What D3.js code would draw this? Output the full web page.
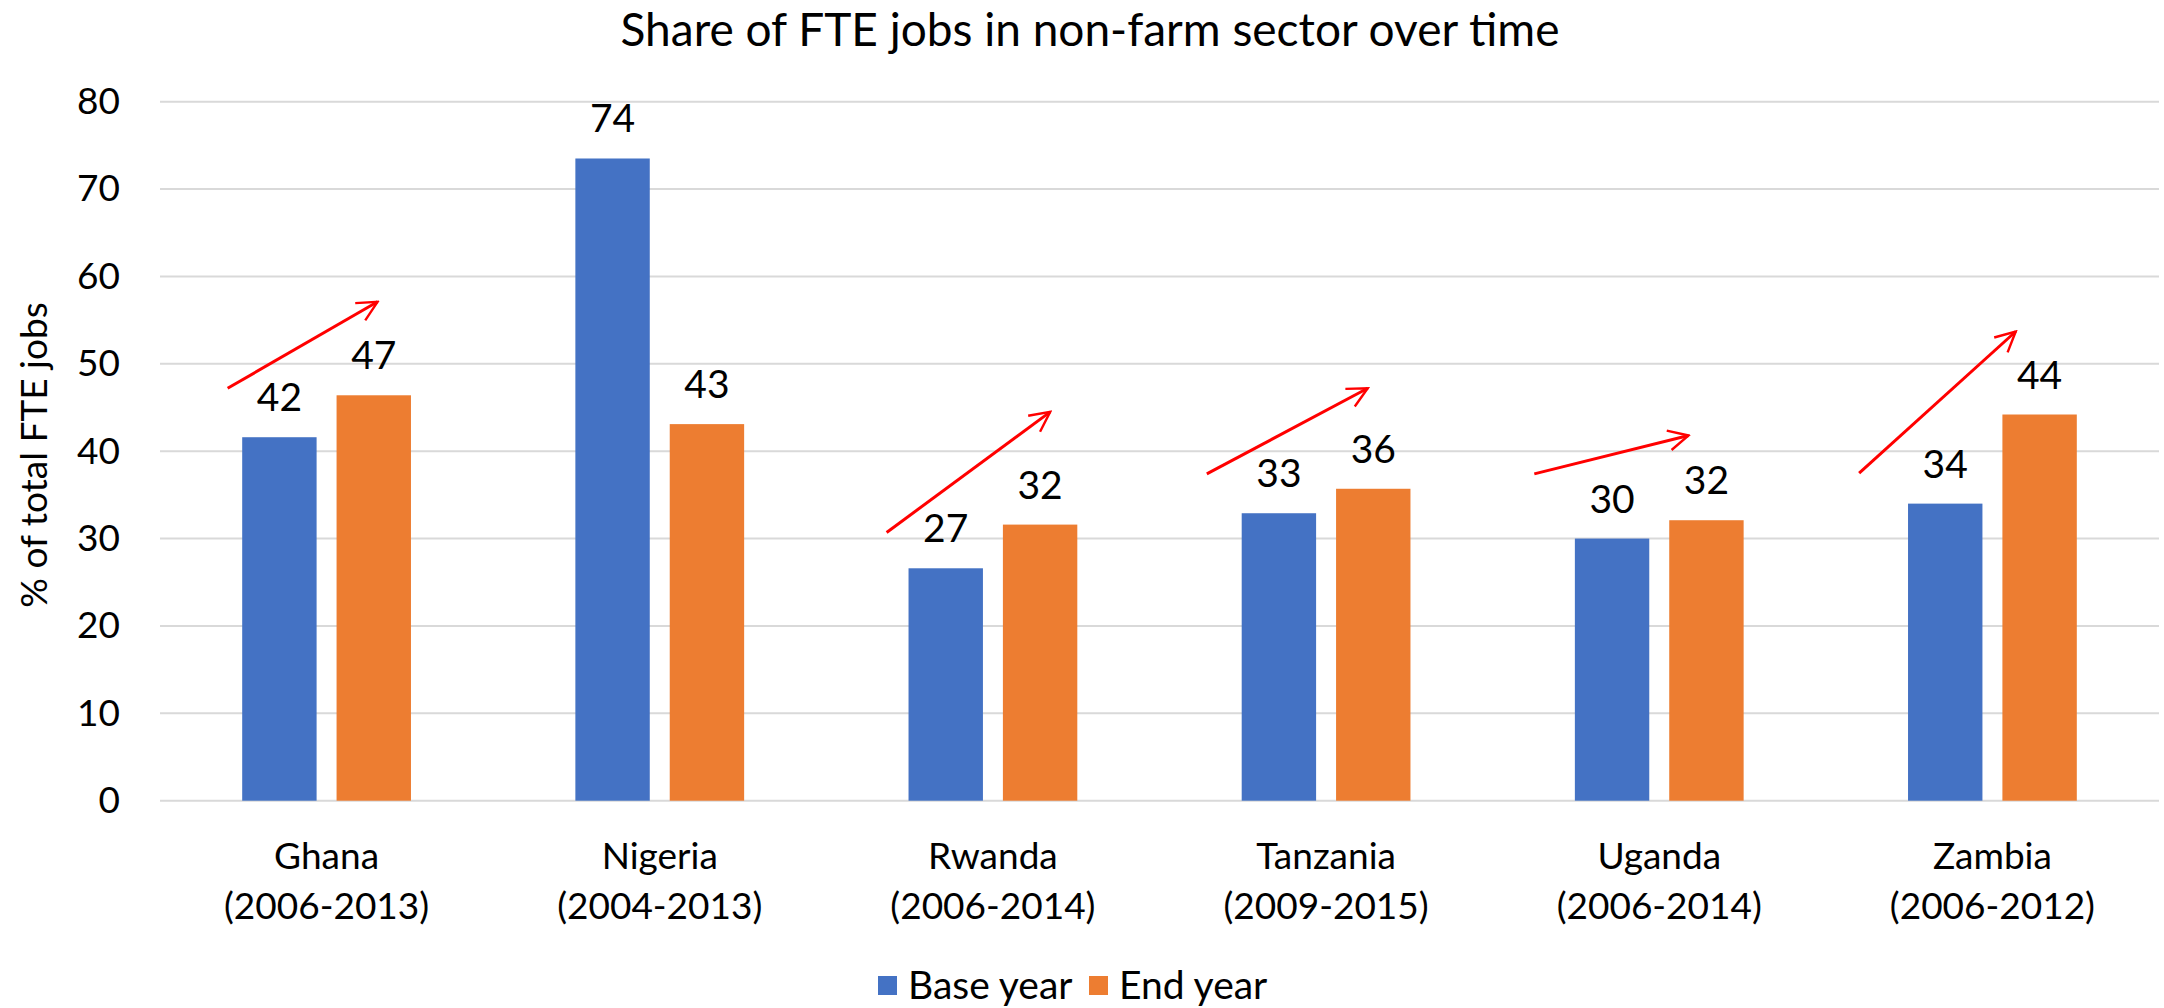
<!DOCTYPE html>
<html>
<head>
<meta charset="utf-8">
<script src="https://cdn.jsdelivr.net/npm/d3@7"></script>
<style>
  body { margin: 0; background: #fff; }
  text { font-family: Lato, "Open Sans", sans-serif; fill: #000; }
</style>
</head>
<body>
<div id="chart"></div>
<script>
let categories = ['Ghana', 'Nigeria', 'Rwanda', 'Tanzania', 'Uganda', 'Zambia'];
let periods = ['(2006-2013)', '(2004-2013)', '(2006-2014)', '(2009-2015)', '(2006-2014)', '(2006-2012)'];
let series = ['Base year', 'End year'];
let baseYear = [41.6, 73.5, 26.6, 32.9, 30.0, 34.0];
let endYear = [46.4, 43.1, 31.6, 35.7, 32.1, 44.2];
let labels = [[42, 47], [74, 43], [27, 32], [33, 36], [30, 32], [34, 44]];
let yTicks = [0, 10, 20, 30, 40, 50, 60, 70, 80];
// red trend arrows: [category, share of band, value]
let arrowFrom = [['Ghana', 0.203, 47.2], ['Rwanda', 0.181, 30.7], ['Tanzania', 0.142, 37.4], ['Uganda', 0.125, 37.4], ['Zambia', 0.10, 37.5]];
let arrowTo = [['Ghana', 0.653, 57.1], ['Rwanda', 0.672, 44.5], ['Tanzania', 0.625, 47.2], ['Uganda', 0.588, 41.8], ['Zambia', 0.570, 53.7]];

let colors = ['#4472C4', '#ED7D31'];
let width = 2164, height = 1008;
let plotLeft = 160, plotRight = 2159, plotTop = 101.7, plotBottom = 800.7;

let svg = d3.select('#chart').append('svg')
  .attr('width', width)
  .attr('height', height);

let x0 = d3.scaleBand().domain(categories).range([plotLeft, plotRight]);
let x1 = d3.scaleBand().domain(series).range([0, x0.bandwidth()])
  .paddingInner(0.2116).paddingOuter(0.871);
let y = d3.scaleLinear().domain([0, 80]).range([plotBottom, plotTop]);

// gridlines
svg.append('g')
  .selectAll('line')
  .data(yTicks)
  .enter().append('line')
    .attr('x1', plotLeft).attr('x2', plotRight)
    .attr('y1', d => y(d)).attr('y2', d => y(d))
    .attr('stroke', '#D9D9D9')
    .attr('stroke-width', 2);

// y axis labels
let yAxis = svg.append('g')
  .attr('transform', 'translate(' + (plotLeft - 40) + ',0)')
  .call(d3.axisLeft(y).tickValues(yTicks).tickSize(0).tickPadding(0));
yAxis.select('.domain').remove();
yAxis.selectAll('text')
  .style('font-size', '37px')
  .style('font-family', 'Lato, sans-serif')
  .attr('fill', '#000');

svg.append('text')
  .attr('transform', 'translate(47,455) rotate(-90)')
  .attr('text-anchor', 'middle')
  .style('font-size', '37px')
  .text('% of total FTE jobs');

// title
svg.append('text')
  .attr('x', 1090).attr('y', 46)
  .attr('text-anchor', 'middle')
  .style('font-size', '46px')
  .text('Share of FTE jobs in non-farm sector over time');

let rows = categories.map((c, i) => ({ cat: c, vals: [baseYear[i], endYear[i]], lab: labels[i] }));

let groups = svg.append('g')
  .selectAll('g')
  .data(rows)
  .enter().append('g')
    .attr('transform', d => 'translate(' + x0(d.cat) + ',0)');

groups.selectAll('rect')
  .data(d => d.vals.map((v, j) => ({ s: series[j], v: v, j: j })))
  .enter().append('rect')
    .attr('x', d => x1(d.s))
    .attr('width', x1.bandwidth())
    .attr('y', d => y(d.v))
    .attr('height', d => y(0) - y(d.v))
    .style('fill', d => colors[d.j]);

groups.selectAll('text.lab')
  .data(d => d.vals.map((v, j) => ({ s: series[j], v: v, l: d.lab[j] })))
  .enter().append('text')
    .attr('class', 'lab')
    .attr('x', d => x1(d.s) + x1.bandwidth() / 2)
    .attr('y', d => y(d.v) - 26)
    .attr('text-anchor', 'middle')
    .style('font-size', '39px')
    .text(d => d.l);

// category labels
groups.append('text')
  .attr('x', x0.bandwidth() / 2)
  .attr('y', 869)
  .attr('text-anchor', 'middle')
  .style('font-size', '37px')
  .text(d => d.cat);
groups.append('text')
  .attr('x', x0.bandwidth() / 2)
  .attr('y', 919)
  .attr('text-anchor', 'middle')
  .style('font-size', '37px')
  .text((d, i) => periods[i]);

// arrows
svg.append('defs').append('marker')
  .attr('id', 'head')
  .attr('viewBox', '0 0 12 12')
  .attr('refX', 11).attr('refY', 6)
  .attr('markerWidth', 8).attr('markerHeight', 8)
  .attr('markerUnits', 'strokeWidth')
  .attr('orient', 'auto')
  .append('path')
    .attr('d', 'M1,1 L11,6 L1,11')
    .attr('fill', 'none')
    .attr('stroke', '#FF0000')
    .attr('stroke-width', 1.2);

let ax = a => x0(a[0]) + a[1] * x0.bandwidth();
svg.append('g')
  .selectAll('line')
  .data(arrowFrom)
  .enter().append('line')
    .attr('x1', d => ax(d))
    .attr('y1', d => y(d[2]))
    .attr('x2', (d, i) => ax(arrowTo[i]))
    .attr('y2', (d, i) => y(arrowTo[i][2]))
    .attr('stroke', '#FF0000')
    .attr('stroke-width', 3)
    .attr('marker-end', 'url(#head)');

// legend
let legend = svg.append('g')
  .selectAll('g')
  .data(series)
  .enter().append('g')
    .attr('transform', (d, i) => 'translate(' + (878 + i * 211) + ',976)');
legend.append('rect')
  .attr('width', 19).attr('height', 19)
  .style('fill', (d, i) => colors[i]);
legend.append('text')
  .attr('x', 30).attr('y', 23)
  .style('font-size', '39px')
  .text(d => d);
</script>
</body>
</html>
